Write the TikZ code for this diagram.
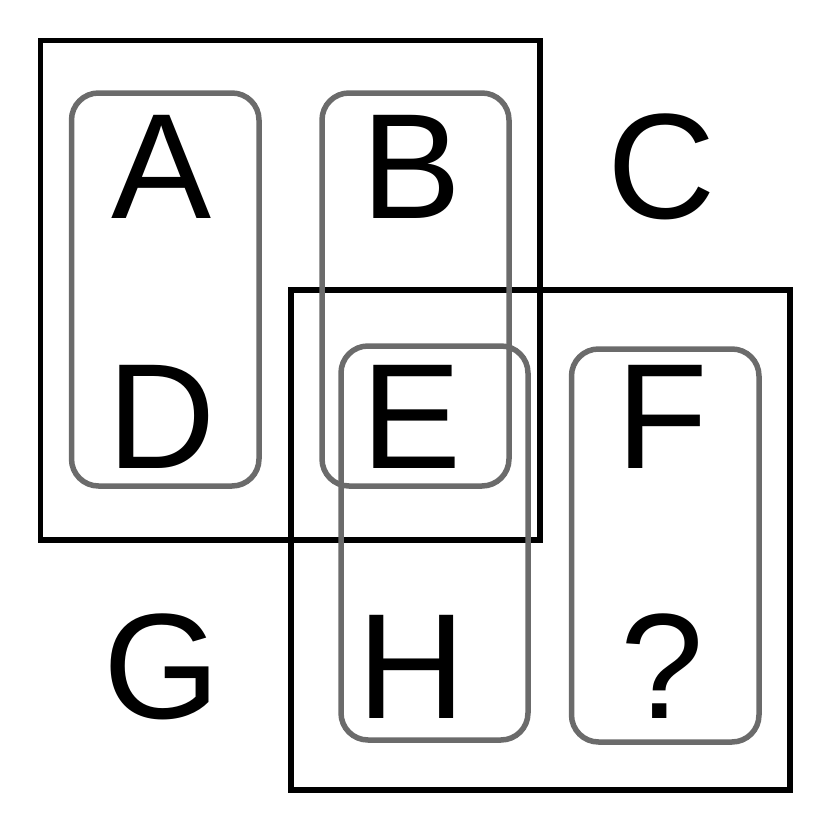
\documentclass[tikz,border=0pt]{standalone}
\usepackage{fontspec}
\setmainfont{Liberation Sans}
\begin{document}
\begin{tikzpicture}[x=1pt,y=-1pt,
  frame/.style={draw=black,line width=5.5pt},
  grp/.style={draw=black!58,line width=5.5pt,rounded corners=27pt},
  letter/.style={anchor=base,inner sep=0pt,font=\fontsize{150}{150}\selectfont}]
\useasboundingbox (0,0) rectangle (831,839);
\draw[frame] (40.5,40.5) rectangle (540,540);
\draw[frame] (291,290) rectangle (790,790);
\draw[grp] (71.5,93) rectangle (259,486);
\draw[grp] (322,93) rectangle (509,486);
\draw[grp] (341,346) rectangle (528,740);
\draw[grp] (571.5,349) rectangle (759,742);
\node[letter] (A) at (162,218) {A};
\node[letter] (B) at (412,218) {B};
\node[letter] (C) at (662,218) {C};
\node[letter] (D) at (162,468) {D};
\node[letter] (E) at (412,468) {E};
\node[letter] (F) at (662,468) {F};
\node[letter] (G) at (162,718) {G};
\node[letter] (H) at (412,718) {H};
\node[letter] (Q) at (662,718) {?};
\end{tikzpicture}
\end{document}
